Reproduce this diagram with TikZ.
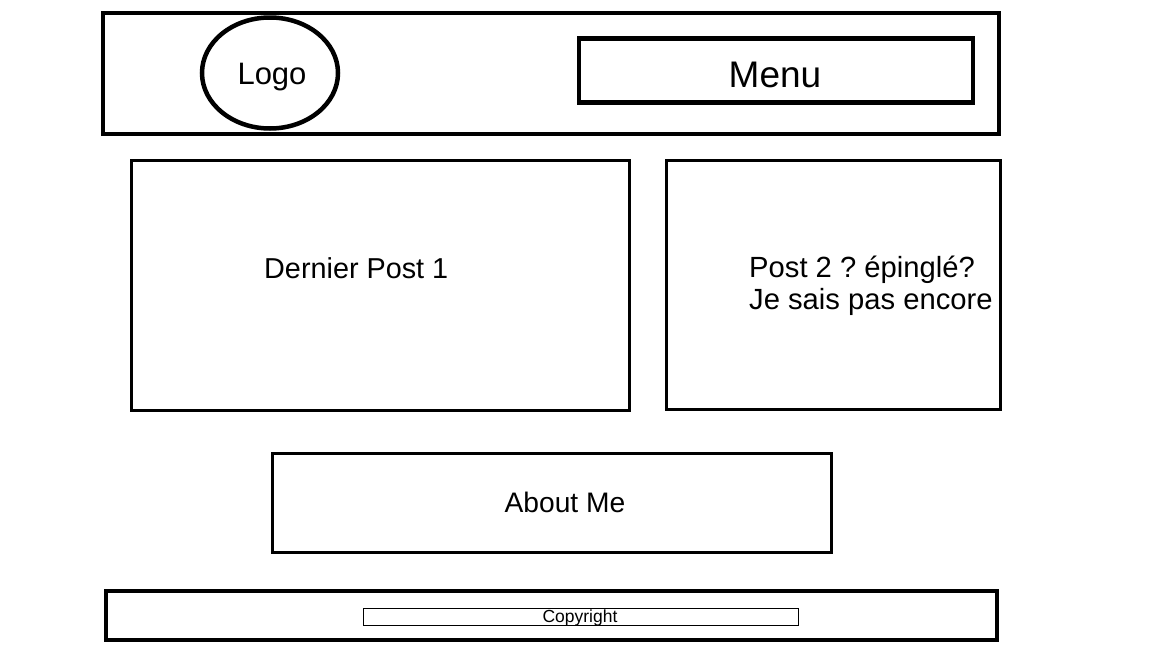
\documentclass[tikz,border=0pt]{standalone}
\usepackage{fontspec}
\setmainfont{Liberation Sans}
\usetikzlibrary{shapes.geometric}
\frenchspacing
\begin{document}
\begin{tikzpicture}[x=1pt,y=-1pt,
  frame/.style={draw=black,rectangle,inner sep=0pt},
  heavy/.style={line width=4pt},
  medium/.style={line width=3pt},
  thin/.style={line width=1pt},
  label/.style={inner sep=0pt,text=black}]
  % page area
  \useasboundingbox (0,0) rectangle (1152,648);
  \fill[white] (0,0) rectangle (1152,648);

  % header bar with logo and menu
  \node[frame,heavy,minimum width=896pt,minimum height=121pt] (header) at (550.5,73) {};
  \node[draw=black,ellipse,line width=4.5pt,inner sep=0pt,minimum width=136pt,minimum height=111pt] (logo) at (270,73) {};
  \node[label,anchor=base,font=\fontsize{31}{34}\selectfont] (logotext) at (272,84) {Logo};
  \node[frame,line width=4.5pt,minimum width=394pt,minimum height=64pt] (menu) at (776,70.5) {};
  \node[label,anchor=base,font=\fontsize{37}{40}\selectfont] (menutext) at (775,87) {Menu};

  % post boxes
  \node[frame,medium,minimum width=498pt,minimum height=250pt] (post1) at (380.5,285) {};
  \node[label,anchor=base west,font=\fontsize{28.8}{32}\selectfont] (post1text) at (264,278) {Dernier Post 1};
  \node[frame,medium,minimum width=334pt,minimum height=249pt] (post2) at (833.5,284.5) {};
  \node[label,anchor=base west,font=\fontsize{29.2}{32}\selectfont] (post2a) at (749,277) {Post 2 ? épinglé?};
  \node[label,anchor=base west,font=\fontsize{29.2}{32}\selectfont] (post2b) at (749,309) {Je sais pas encore};

  % about section
  \node[frame,medium,minimum width=559pt,minimum height=99pt] (about) at (551.5,502.5) {};
  \node[label,anchor=base,font=\fontsize{28.2}{32}\selectfont] (abouttext) at (565,512) {About Me};

  % footer
  \node[frame,heavy,minimum width=891pt,minimum height=49pt] (footer) at (551,615) {};
  \node[frame,thin,minimum width=435pt,minimum height=17pt] (copybox) at (580.5,616.5) {};
  \node[label,anchor=base,font=\fontsize{17.5}{19}\selectfont] (copytext) at (580,622) {Copyright};
\end{tikzpicture}
\end{document}
